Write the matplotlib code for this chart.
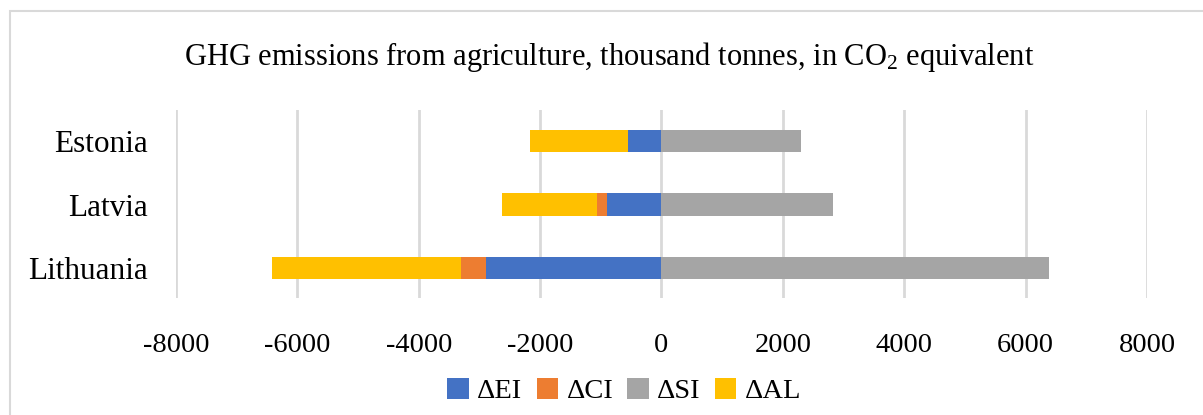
import numpy as np
import matplotlib.pyplot as plt
from matplotlib.patches import Rectangle

# Descomposicion de emisiones GEI de la agricultura (miles de toneladas CO2 eq.)
paises = ['Lithuania', 'Latvia', 'Estonia']
delta_ei = [-2896, -890, -550]
delta_ci = [-401, -165, -5]
delta_si = [6384, 2829, 2296]
delta_al = [-3126, -1566, -1609]

colores = {'EI': '#4472C4', 'CI': '#ED7D31', 'SI': '#A5A5A5', 'AL': '#FFC000'}

plt.rcParams['font.family'] = ['Liberation Serif', 'DejaVu Serif']
plt.rcParams['axes.unicode_minus'] = False
plt.rcParams['mathtext.fontset'] = 'custom'
plt.rcParams['mathtext.rm'] = 'Liberation Serif'

fig = plt.figure(figsize=(12.03, 4.15), dpi=100)
ax = fig.add_axes([0.1463, 0.282, 0.8071, 0.453])

y = np.arange(len(paises))
alto = 0.35

ei = np.array(delta_ei)
ci = np.array(delta_ci)
al = np.array(delta_al)
si = np.array(delta_si)

ax.barh(y, ei, alto, color=colores['EI'], label='ΔEI', zorder=3)
ax.barh(y, ci, alto, left=ei, color=colores['CI'], label='ΔCI', zorder=3)
ax.barh(y, si, alto, color=colores['SI'], label='ΔSI', zorder=3)
ax.barh(y, al, alto, left=ei + ci, color=colores['AL'], label='ΔAL', zorder=3)

ax.set_xlim(-8000, 8000)
ax.set_ylim(-0.47, 2.49)
ax.set_xticks(np.arange(-8000, 8001, 2000))
ax.set_yticks(y)
ax.set_yticklabels(paises)
ax.tick_params(axis='both', length=0, colors='black')
ax.tick_params(axis='x', pad=25, labelsize=20.5)
ax.tick_params(axis='y', pad=20, labelsize=22.5)
ax.grid(axis='x', color='#D9D9D9', linewidth=2, zorder=0)
for s in ax.spines.values():
    s.set_visible(False)

fig.text(0.506, 0.862, 'GHG emissions from agriculture, thousand tonnes, in CO$\\mathrm{_2}$ equivalent',
         ha='center', va='center', fontsize=22)

ax.legend(loc='center', bbox_to_anchor=(0.519, 0.058), bbox_transform=fig.transFigure,
          ncol=4, frameon=False, fontsize=20.5, handlelength=0.75, handleheight=0.75,
          handletextpad=0.3, columnspacing=0.5)

# marco del area del grafico
fig.patches.append(Rectangle((10 / 1203, -0.1), 1.2, 1 - 11 / 415 + 0.1,
                             transform=fig.transFigure, fill=False,
                             edgecolor='#D9D9D9', linewidth=1.5))

fig.savefig('out.png', dpi=100)
